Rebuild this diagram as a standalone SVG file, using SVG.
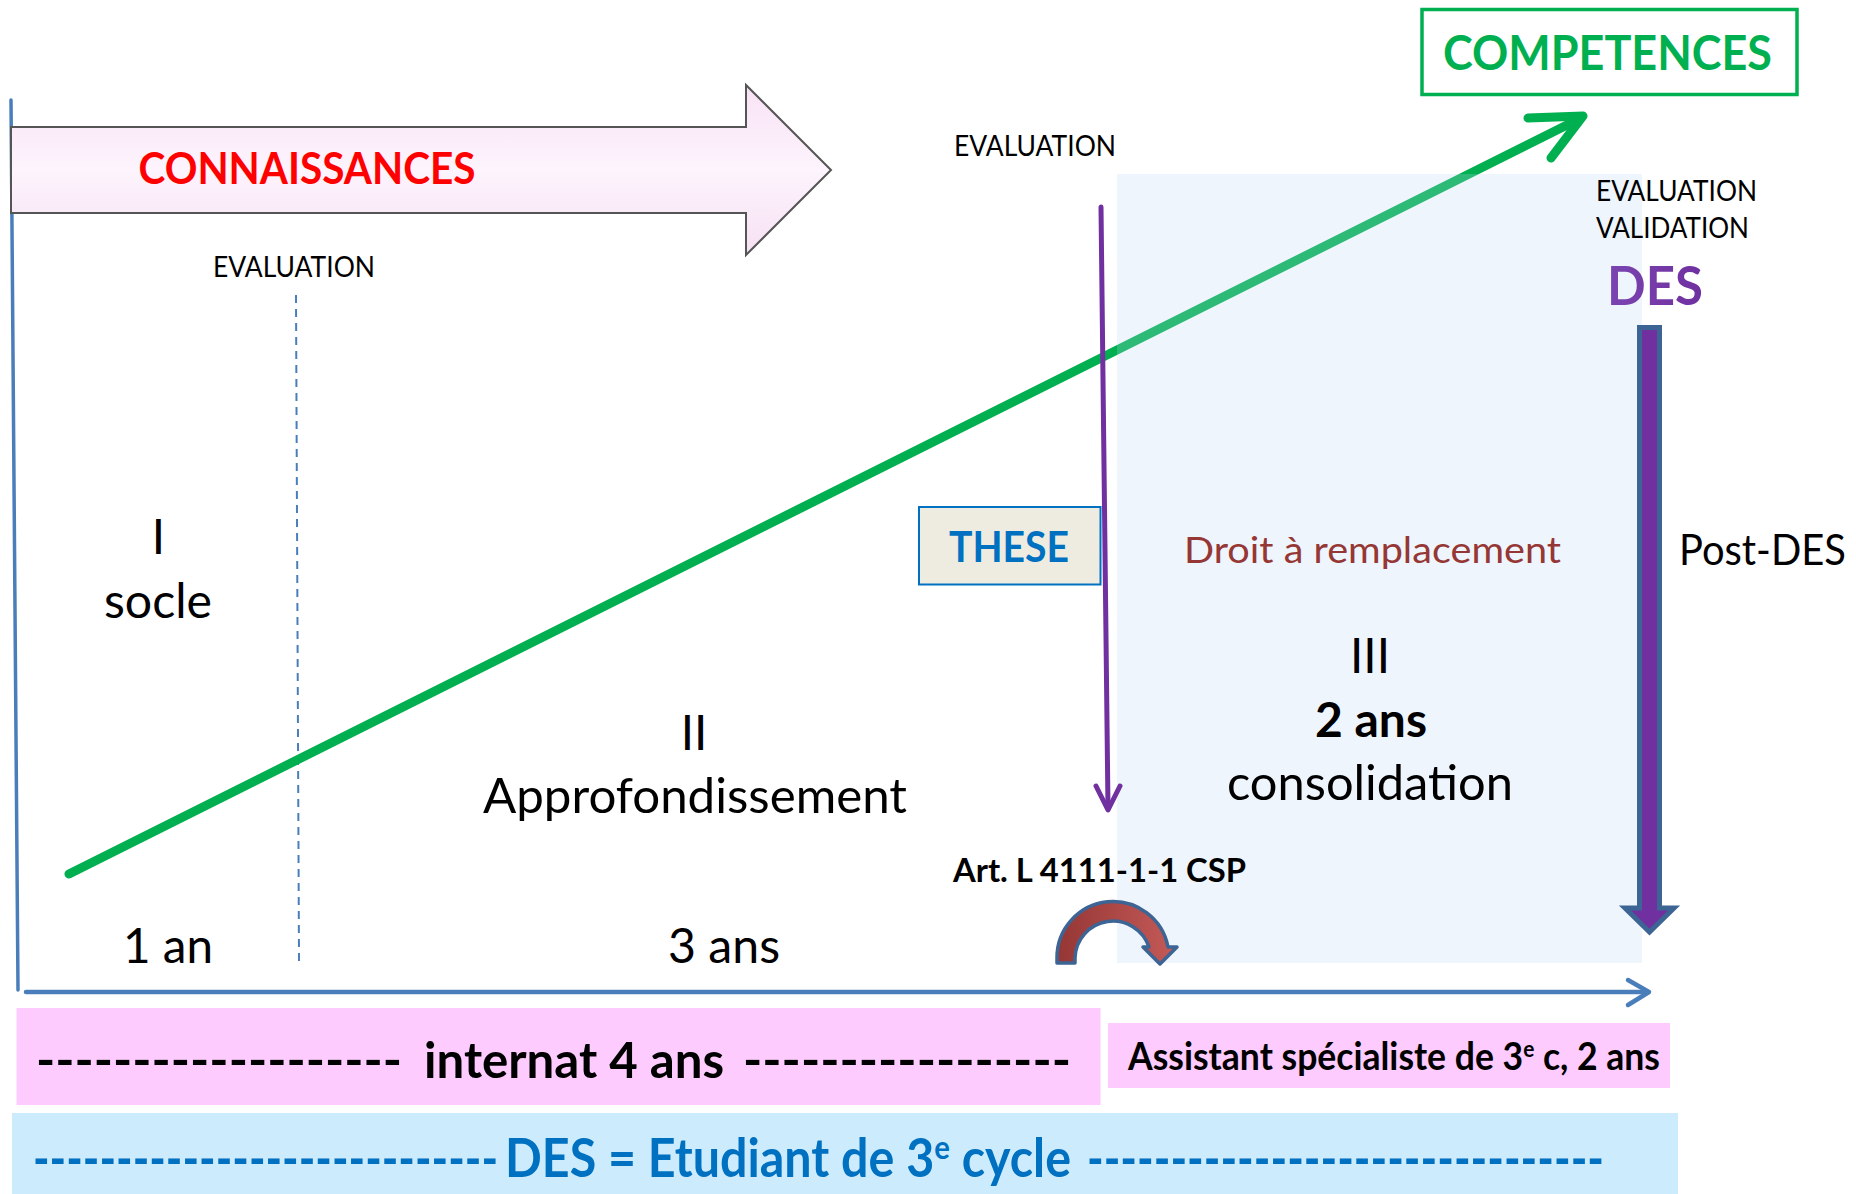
<svg xmlns="http://www.w3.org/2000/svg" width="1856" height="1194" viewBox="0 0 1856 1194">
<defs>
<style>
text{font-family:Lato,"Open Sans","Liberation Sans",sans-serif;}
.r{font-weight:400;}
.b{font-weight:700;}
.axis{stroke:#4a7ebb;fill:none;stroke-linecap:round;stroke-linejoin:round;}
.lbl{font-size:28px;fill:#000;}
.big{font-size:47.5px;fill:#000;}
</style>
<linearGradient id="pinkArrow" x1="0" y1="0" x2="0" y2="1">
<stop offset="0" stop-color="#f8e2f5"/>
<stop offset="0.5" stop-color="#fdf4fd"/>
<stop offset="1" stop-color="#f6e0f3"/>
</linearGradient>
<linearGradient id="uturn" x1="0" y1="0" x2="1" y2="0">
<stop offset="0" stop-color="#953735"/>
<stop offset="1" stop-color="#c45a58"/>
</linearGradient>
<linearGradient id="desGrad" x1="0" y1="0" x2="1" y2="0">
<stop offset="0" stop-color="#7a45b0"/>
<stop offset="1" stop-color="#7030a0"/>
</linearGradient>
</defs>

<rect width="1856" height="1194" fill="#fff"/>

<g id="connectors">
<line class="axis" x1="11" y1="100" x2="18" y2="990" stroke-width="3.5"/>
<line class="axis" x1="26" y1="992" x2="1647" y2="992" stroke-width="4.5"/>
<polyline class="axis" points="1628,980 1649,992 1628,1005" stroke-width="4.5"/>
<line x1="296" y1="295" x2="299" y2="961" stroke="#4a7ebb" stroke-width="2" stroke-dasharray="8 6"/>
<g id="competence-arrow">
<line x1="69" y1="874" x2="1577" y2="120" stroke="#00b050" stroke-width="9" stroke-linecap="round"/>
<polyline points="1528,118 1583,116 1551,158" fill="none" stroke="#00b050" stroke-width="9" stroke-linecap="round" stroke-linejoin="round"/>
</g>
</g>

<g id="consolidation-zone">
<rect x="1117" y="174" width="525" height="789" fill="#bdd7f3" fill-opacity="0.24"/>
</g>

<g id="connaissances">
<polygon points="11,127 746,127 746,85 831,170 746,255 746,213 11,213" fill="url(#pinkArrow)" stroke="#555" stroke-width="2"/>
<text class="b" x="138.5" y="184" font-size="43" fill="#ff0000" textLength="337" lengthAdjust="spacingAndGlyphs">CONNAISSANCES</text>
</g>

<g id="evaluation-1">
<text class="r lbl" x="213" y="277" textLength="162" lengthAdjust="spacingAndGlyphs">EVALUATION</text>
</g>
<g id="evaluation-2">
<text class="r lbl" x="954" y="156" textLength="162" lengthAdjust="spacingAndGlyphs">EVALUATION</text>
</g>
<g id="evaluation-validation">
<text class="r lbl" x="1596" y="201" fill="#111" textLength="161" lengthAdjust="spacingAndGlyphs">EVALUATION</text>
<text class="r lbl" x="1596" y="238" fill="#111" textLength="153" lengthAdjust="spacingAndGlyphs">VALIDATION</text>
</g>
<g id="des-title">
<text class="b" x="1607" y="305" font-size="53" fill="url(#desGrad)" textLength="96" lengthAdjust="spacingAndGlyphs">DES</text>
</g>

<g id="competences">
<rect x="1422" y="9.5" width="375" height="85" fill="#fff" stroke="#00b050" stroke-width="3.5"/>
<text class="b" x="1443" y="70" font-size="47" fill="#00b050" textLength="329" lengthAdjust="spacingAndGlyphs">COMPETENCES</text>
</g>

<g id="these-arrow">
<line x1="1101" y1="207" x2="1108" y2="808" stroke="#7030a0" stroke-width="5" stroke-linecap="round"/>
<polyline points="1096,786 1108,810 1120,786" fill="none" stroke="#7030a0" stroke-width="5" stroke-linecap="round" stroke-linejoin="round"/>
</g>

<g id="these">
<rect x="919" y="507" width="181.5" height="77.5" fill="#eeece1" stroke="#0070c0" stroke-width="2"/>
<text class="b" x="949" y="562" font-size="42" fill="#0070c0" textLength="120" lengthAdjust="spacingAndGlyphs">THESE</text>
</g>

<g id="droit">
<text class="r" x="1184" y="563" font-size="36" fill="#953735" textLength="377" lengthAdjust="spacingAndGlyphs">Droit à remplacement</text>
</g>

<g id="phase-1">
<text class="r big" x="158.5" y="554" text-anchor="middle">I</text>
<text class="r big" x="104" y="618" textLength="108" lengthAdjust="spacingAndGlyphs">socle</text>
</g>
<g id="phase-2">
<text class="r big" x="694" y="750" text-anchor="middle">II</text>
<text class="r big" x="483" y="813" textLength="424" lengthAdjust="spacingAndGlyphs">Approfondissement</text>
</g>
<g id="phase-3">
<text class="r big" x="1370" y="673" text-anchor="middle" fill="#111">III</text>
<text class="b big" x="1315" y="737" fill="#111" textLength="112" lengthAdjust="spacingAndGlyphs">2 ans</text>
<text class="r big" x="1227" y="800" fill="#111" textLength="286" lengthAdjust="spacingAndGlyphs">consolidation</text>
</g>
<g id="duree-1">
<text class="r big" x="123" y="963" textLength="90" lengthAdjust="spacingAndGlyphs">1 an</text>
</g>
<g id="duree-2">
<text class="r big" x="668" y="963" textLength="112" lengthAdjust="spacingAndGlyphs">3 ans</text>
</g>

<g id="article">
<text class="b" x="953" y="882" font-size="32" fill="#000" textLength="293" lengthAdjust="spacingAndGlyphs">Art. L 4111-1-1 CSP</text>
<path d="M1057,963 L1057,958 A56,56 0 0 1 1168,947 L1177,947 L1160,964 L1143,947 L1149,947 A38,38 0 0 0 1075,958 L1075,963 Z" fill="url(#uturn)" stroke="#3c6494" stroke-width="3.5" stroke-linejoin="round"/>
</g>

<g id="post-des">
<polygon points="1639.5,327.5 1659.5,327.5 1659.5,908 1674,908 1649.5,932 1625,908 1639.5,908" fill="#7030a0" stroke="#3c6494" stroke-width="5" stroke-linejoin="miter"/>
<text class="r" x="1679" y="565" font-size="43" fill="#000" textLength="167" lengthAdjust="spacingAndGlyphs">Post-DES</text>
</g>

<g id="internat">
<rect x="16.5" y="1008" width="1084" height="97" fill="#fdcbfd"/>
<text class="b" y="1078" font-size="49" fill="#000"><tspan x="36" textLength="366" lengthAdjust="spacingAndGlyphs">-------------------</tspan> <tspan x="424" textLength="300" lengthAdjust="spacingAndGlyphs">internat 4 ans</tspan> <tspan x="743" textLength="328" lengthAdjust="spacingAndGlyphs">-----------------</tspan></text>
</g>

<g id="assistant">
<rect x="1108" y="1023" width="562" height="65" fill="#fdcbfd"/>
<text class="b" x="1128" y="1070" font-size="37.5" fill="#000" textLength="532" lengthAdjust="spacingAndGlyphs">Assistant spécialiste de 3<tspan dy="-13" font-size="22">e</tspan><tspan dy="13"> c, 2 ans</tspan></text>
</g>

<g id="des-etudiant">
<rect x="12" y="1113" width="1666" height="81" fill="#ccecfe"/>
<text class="b" y="1177" font-size="53" fill="#0070c0"><tspan x="33" textLength="465" lengthAdjust="spacingAndGlyphs">----------------------------</tspan><tspan x="505" textLength="566" lengthAdjust="spacingAndGlyphs">DES = Etudiant de 3<tspan dy="-18" font-size="32">e</tspan><tspan dy="18"> cycle</tspan></tspan> <tspan x="1087" textLength="517" lengthAdjust="spacingAndGlyphs">-------------------------------</tspan></text>
</g>
</svg>
